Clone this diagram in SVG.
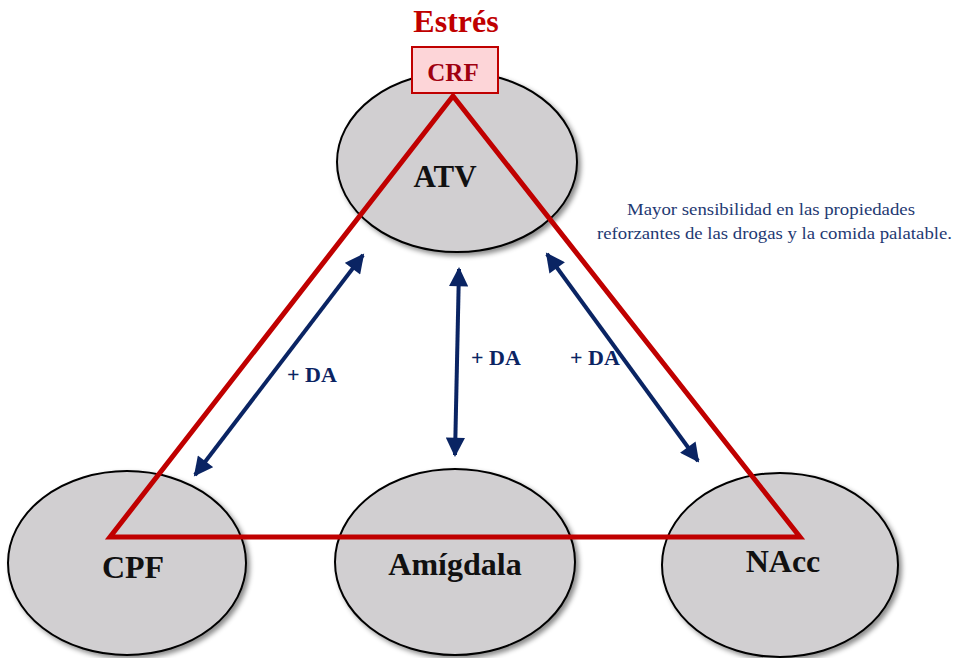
<svg xmlns="http://www.w3.org/2000/svg" width="956" height="658" viewBox="0 0 956 658">
<defs>
<filter id="sh" x="-10%" y="-10%" width="125%" height="125%">
<feDropShadow dx="3" dy="3" stdDeviation="2.5" flood-color="#000" flood-opacity="0.45"/>
</filter>
<marker id="ah" viewBox="0 0 10 10" refX="9" refY="5" markerWidth="5" markerHeight="4.8" orient="auto-start-reverse" markerUnits="strokeWidth">
<path d="M0,0 L10,5 L0,10 Z" fill="#0a2463"/>
</marker>
<style>
.node ellipse{fill:#d1cfd1;stroke:#000;stroke-width:2;filter:url(#sh)}
.lbl{font-family:"Liberation Serif",serif;font-weight:bold;fill:#111;text-anchor:middle}
.da{font-family:"Liberation Serif",serif;font-weight:bold;font-size:22px;fill:#0a2463}
.arr{stroke:#0a2463;stroke-width:4;fill:none;marker-start:url(#ah);marker-end:url(#ah)}
.note{font-family:"Liberation Serif",serif;font-size:17px;fill:#1f3a73}
</style>
</defs>
<rect width="956" height="658" fill="#fff"/>
<g id="ATV" class="node"><ellipse cx="457" cy="162" rx="120" ry="90"/></g>
<g id="CPF" class="node"><ellipse cx="127" cy="563" rx="119" ry="92"/></g>
<g id="Amigdala" class="node"><ellipse cx="455" cy="562" rx="120" ry="93"/></g>
<g id="NAcc" class="node"><ellipse cx="780" cy="565" rx="118" ry="92"/></g>
<g id="CRF">
<rect x="412" y="47" width="86" height="46" fill="#fdd5d8" stroke="#c00000" stroke-width="2"/>
<text x="453" y="81" font-family="Liberation Serif,serif" font-weight="bold" font-size="25" fill="#a00010" text-anchor="middle">CRF</text>
</g>
<text id="Estres" x="456" y="32" font-family="Liberation Serif,serif" font-weight="bold" font-size="32" fill="#c00000" text-anchor="middle">Estrés</text>
<g id="triangle">
<polygon points="453,96 110,537 800,537" fill="none" stroke="#c00000" stroke-width="5" stroke-linejoin="miter"/>
</g>
<g id="labels">
<text class="lbl" x="445" y="187" font-size="31">ATV</text>
<text class="lbl" x="133" y="578" font-size="32">CPF</text>
<text class="lbl" x="455" y="575" font-size="32">Amígdala</text>
<text class="lbl" x="783" y="572" font-size="32">NAcc</text>
</g>
<g id="connectors">
<line class="arr" x1="195" y1="475" x2="363" y2="255"/>
<line class="arr" x1="455" y1="455" x2="459" y2="269"/>
<line class="arr" x1="698" y1="461" x2="547" y2="254"/>
</g>
<g id="da-labels">
<text class="da" x="287" y="382">+ DA</text>
<text class="da" x="471" y="365">+ DA</text>
<text class="da" x="570" y="365">+ DA</text>
</g>
<g id="note">
<text class="note" x="627" y="215" textLength="288" lengthAdjust="spacingAndGlyphs">Mayor sensibilidad en las propiedades</text>
<text class="note" x="597" y="239" textLength="355" lengthAdjust="spacingAndGlyphs">reforzantes de las drogas y la comida palatable.</text>
</g>
</svg>
